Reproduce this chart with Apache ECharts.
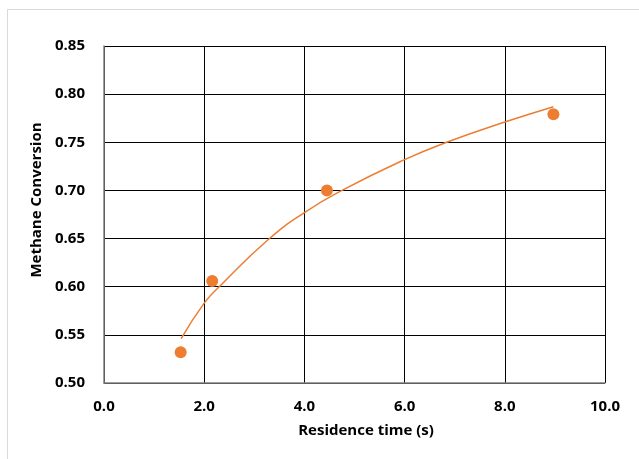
<!DOCTYPE html>
<html>
<head>
<meta charset="utf-8">
<script src="https://cdn.jsdelivr.net/npm/echarts@6/dist/echarts.min.js"></script>
<style>html,body{margin:0;padding:0;background:#fff}#c{width:639px;height:459px}</style>
</head>
<body>
<div id="c"></div>
<script>
// Measured data points (residence time s, methane conversion)
const residenceTime = [1.53, 2.16, 4.45, 8.97];
const conversion = [0.532, 0.606, 0.700, 0.779];
// Trend line
const trendX = [1.54, 2.0, 2.3, 3.28, 4.0, 4.75, 6.0, 6.84, 8.0, 8.97];
const trendY = [0.546, 0.583, 0.600, 0.649, 0.677, 0.700, 0.732, 0.750, 0.771, 0.787];
const xTicks = ['0.0', '2.0', '4.0', '6.0', '8.0', '10.0'];
const yTicks = ['0.50', '0.55', '0.60', '0.65', '0.70', '0.75', '0.80', '0.85'];
const xTitle = 'Residence time (s)';
const yTitle = 'Methane Conversion';

const FONT = '"Open Sans", "Noto Sans", sans-serif';
const chart = echarts.init(document.getElementById('c'), null, {renderer: 'canvas'});
chart.setOption({
  animation: false,
  backgroundColor: '#fff',
  graphic: [
    {type: 'line', shape: {x1: 7.5, y1: 9.5, x2: 700, y2: 9.5}, style: {stroke: '#d9d9d9', lineWidth: 1}},
    {type: 'line', shape: {x1: 7.5, y1: 9.5, x2: 7.5, y2: 700}, style: {stroke: '#d9d9d9', lineWidth: 1}},
    {type: 'text', x: 366, y: 431, style: {text: xTitle, fontFamily: FONT, fontWeight: 'bold', fontSize: 15,
      fill: '#000', align: 'center', verticalAlign: 'middle'}},
    {type: 'text', x: 37, y: 200, rotation: Math.PI / 2, style: {text: yTitle, fontFamily: FONT, fontWeight: 'bold',
      fontSize: 15, fill: '#000', align: 'center', verticalAlign: 'middle'}}
  ],
  grid: {left: 104, right: 34, top: 46, bottom: 76, containLabel: false},
  xAxis: {
    type: 'value', min: 0, max: 10, interval: 2,
    axisLine: {show: true, lineStyle: {color: '#7f7f7f', width: 1.5}},
    axisTick: {show: false},
    axisLabel: {fontFamily: FONT, fontWeight: 'bold', fontSize: 15, color: '#000', margin: 16,
      formatter: v => xTicks[Math.round(v / 2)]},
    splitLine: {show: true, lineStyle: {color: '#000', width: 1}}
  },
  yAxis: {
    type: 'value', min: 0.50, max: 0.85, interval: 0.05,
    axisLine: {show: true, lineStyle: {color: '#7f7f7f', width: 1.5}},
    axisTick: {show: false},
    axisLabel: {fontFamily: FONT, fontWeight: 'bold', fontSize: 15, color: '#000', margin: 19,
      formatter: v => yTicks[Math.round((v - 0.5) / 0.05)]},
    splitLine: {show: true, lineStyle: {color: '#000', width: 1}}
  },
  series: [
    {
      type: 'line', data: trendX.map((x, i) => [x, trendY[i]]), smooth: true,
      showSymbol: false, symbol: 'none', lineStyle: {color: '#ED7D31', width: 1.5}, z: 3
    },
    {
      type: 'scatter', data: residenceTime.map((x, i) => [x, conversion[i]]),
      symbolSize: 12, itemStyle: {color: '#ED7D31', opacity: 1}, z: 4
    }
  ]
});
</script>
</body>
</html>
